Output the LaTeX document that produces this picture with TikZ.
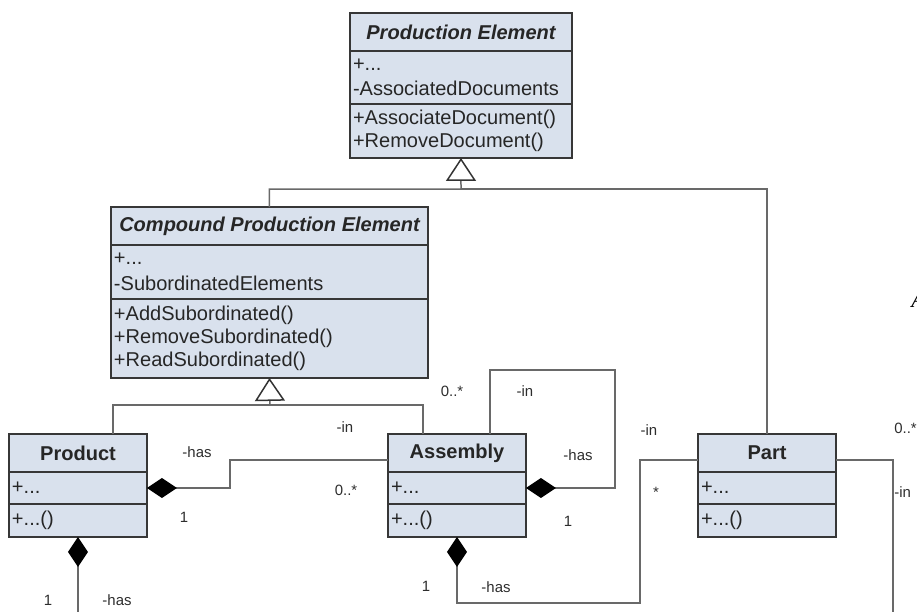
\documentclass[tikz,border=0pt]{standalone}
\usepackage{fontspec}
\setmainfont{Liberation Sans}
\newfontfamily\pageserif{Liberation Serif}
\usetikzlibrary{positioning,arrows.meta}
\definecolor{boxfill}{RGB}{217,225,237}
\definecolor{boxline}{RGB}{55,55,55}
\definecolor{wire}{RGB}{105,105,105}
\definecolor{labeltext}{RGB}{45,45,45}
\begin{document}
\begin{tikzpicture}[x=0.02cm, y=-0.02cm,
    classtitle/.style={draw=boxline, fill=boxfill, line width=0.04cm, outer sep=0pt,
        inner sep=0pt, minimum width=#1, minimum height=0.76cm, anchor=north west,
        font=\fontsize{11.4}{13}\selectfont\bfseries, text=black!85},
    cmpt/.style={draw=boxline, fill=boxfill, line width=0.04cm, outer sep=0pt,
        inner xsep=0.06cm, inner ysep=1pt, text width=#1, align=left,
        font=\fontsize{11.4}{13}\selectfont, text=black!85},
    wireline/.style={draw=wire, line width=0.03cm},
    gen/.style={wireline, -{Triangle[open, length=0.46cm, width=0.6cm, line width=0.03cm, black!80]}},
    has/.style={wireline, -{Diamond[length=0.6cm, width=0.4cm, black]}},
    lab/.style={font=\fontsize{8.5}{10}\selectfont, text=labeltext, inner sep=0pt}]
    \useasboundingbox (0,0) rectangle (917,612);
    \clip (0,0) rectangle (917,612);

    % Drawing class Production Element
    \node [classtitle=4.44cm] (pe) at (350,13) {\itshape Production Element};
    \node [cmpt=4.32cm, minimum height=1.06cm, below=0pt of pe] (pe-a) {+...\\[1.5pt]-AssociatedDocuments};
    \node [cmpt=4.32cm, minimum height=1.08cm, below=0pt of pe-a] (pe-o) {+AssociateDocument()\\+RemoveDocument()};

    % Drawing class Compound Production Element
    \node [classtitle=6.34cm] (cpe) at (111,207) {\itshape Compound Production Element};
    \node [cmpt=6.22cm, minimum height=1.08cm, below=0pt of cpe] (cpe-a) {+...\\[2pt]-SubordinatedElements};
    \node [cmpt=6.22cm, minimum height=1.58cm, below=0pt of cpe-a] (cpe-o) {+AddSubordinated()\\+RemoveSubordinated()\\+ReadSubordinated()};

    % Drawing class Product
    \node [classtitle=2.76cm] (prod) at (9,434) {Product};
    \node [cmpt=2.64cm, minimum height=0.64cm, below=0pt of prod] (prod-a) {+...};
    \node [cmpt=2.64cm, minimum height=0.66cm, below=0pt of prod-a] (prod-o) {+...()};

    % Drawing class Assembly
    \node [classtitle=2.76cm] (asm) at (388,434) {Assembly};
    \node [cmpt=2.64cm, minimum height=0.64cm, below=0pt of asm] (asm-a) {+...};
    \node [cmpt=2.64cm, minimum height=0.66cm, below=0pt of asm-a] (asm-o) {+...()};

    % Drawing class Part
    \node [classtitle=2.76cm] (part) at (698,434) {Part};
    \node [cmpt=2.64cm, minimum height=0.64cm, below=0pt of part] (part-a) {+...};
    \node [cmpt=2.64cm, minimum height=0.66cm, below=0pt of part-a] (part-o) {+...()};

    % Drawing generalization to Production Element
    \coordinate (hubpe) at (461,189);
    \draw [gen] (cpe.north) |- (hubpe) -- (pe-o.south);
    \draw [wireline] (part.north) |- (hubpe);

    % Drawing generalization to Compound Production Element
    \coordinate (hubcpe) at (270,405);
    \coordinate (genprod) at (113,405);
    \coordinate (genasm) at (423,405);
    \draw [wireline] (genprod |- prod.north) -- (genprod) -- (genasm) -- (genasm |- asm.north);
    \draw [gen] (hubcpe) -- (cpe-o.south);

    % Drawing composition Product - Assembly
    \coordinate (bendpa) at (230,460);
    \draw [has] (bendpa -| asm.west) -- (bendpa) |- (prod-a.east);

    % Drawing composition Assembly - Assembly
    \coordinate (loopl) at (490,370);
    \coordinate (loopr) at (615,370);
    \draw [has] (loopl |- asm.north) -- (loopl) -- (loopr) |- (asm-a.east);

    % Drawing composition Assembly - Part
    \coordinate (bendpart) at (640,460);
    \coordinate (bendap) at (640,603);
    \draw [has] (bendpart -| part.west) -- (bendpart) -- (bendap) -| (asm-o.south);

    % Drawing association leaving Part
    \coordinate (partin) at (893,460);
    \coordinate (partend) at (893,620);
    \draw [wireline] (partin -| part.east) -- (partin) -- (partend);

    % Drawing composition leaving Product
    \coordinate (prodend) at (78,620);
    \draw [has] (prod-o.south |- prodend) -- (prod-o.south);

    % Marking role labels
    \node [lab] (l-pa-has) at (197,452) {-has};
    \node [lab] (l-pa-one) at (184,517) {1};
    \node [lab] (l-pa-in) at (345,427) {-in};
    \node [lab] (l-pa-many) at (346,490) {0..*};
    \node [lab] (l-aa-many) at (452,391) {0..*};
    \node [lab] (l-aa-in) at (525,391) {-in};
    \node [lab] (l-aa-has) at (578,455) {-has};
    \node [lab] (l-aa-one) at (568,521) {1};
    \node [lab] (l-ap-one) at (426,586) {1};
    \node [lab] (l-ap-has) at (496,587) {-has};
    \node [lab] (l-ap-in) at (649,430) {-in};
    \node [lab] (l-ap-many) at (656,492) {*};
    \node [lab, anchor=west] (l-pt-many) at (894,428) {0..*};
    \node [lab, anchor=west] (l-pt-in) at (894,492) {-in};
    \node [lab] (l-pr-one) at (48,600) {1};
    \node [lab] (l-pr-has) at (117,600) {-has};

    % Marking cut page letter
    \node [anchor=base west, inner sep=0pt, font=\pageserif\itshape\fontsize{13}{14}\selectfont] (stray) at (911,307) {A};
\end{tikzpicture}
\end{document}
